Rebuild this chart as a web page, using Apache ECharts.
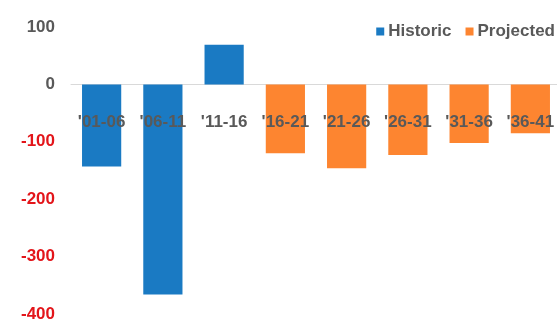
<!DOCTYPE html>
<html>
<head>
<meta charset="utf-8">
<script src="https://cdn.jsdelivr.net/npm/echarts@6/dist/echarts.min.js"></script>
<style>
  html, body { margin: 0; padding: 0; background: #fff; }
  #chart { width: 557px; height: 322px; }
</style>
</head>
<body>
<div id="chart"></div>
<script>
const periods = ["'01-06", "'06-11", "'11-16", "'16-21", "'21-26", "'26-31", "'31-36", "'36-41"];
const historic = [-143, -366, 69, '-', '-', '-', '-', '-'];
const projected = ['-', '-', '-', -120, -146, -123, -102, -85];
const yTicks = [-400, -300, -200, -100, 0, 100];

const font = '"Liberation Sans", Arial, sans-serif';
const gridTop = 27, gridBottom = 8, chartH = 322;
const yMin = yTicks[0], yMax = yTicks[yTicks.length - 1];
// shift the label axis up so its labels sit just under the zero line
const plotH = chartH - gridTop - gridBottom;
const zeroShift = -(0 - yMin) / (yMax - yMin) * plotH;

const myChart = echarts.init(document.getElementById('chart'));

const option = {
  animation: false,
  legend: {
    right: -3,
    top: 18,
    itemWidth: 8,
    itemHeight: 8,
    itemGap: 14,
    icon: 'rect',
    textStyle: { fontFamily: font, fontWeight: 'bold', fontSize: 17, color: '#595959', padding: [0, 0, 0, -1] },
    data: ['Historic', 'Projected']
  },
  grid: { left: 71, right: -4, top: gridTop, bottom: gridBottom, containLabel: false, outerBoundsMode: 'none' },
  xAxis: [
    {
      type: 'category',
      data: periods,
      axisLine: { onZero: true, lineStyle: { color: '#d9d9d9', width: 1 } },
      axisTick: { show: false },
      axisLabel: { show: false }
    },
    {
      type: 'category',
      data: periods,
      position: 'bottom',
      offset: zeroShift,
      z: 10,
      axisLine: { show: false },
      axisTick: { show: false },
      axisLabel: {
        interval: 0,
        margin: 29,
        fontFamily: font,
        fontWeight: 'bold',
        fontSize: 17,
        color: '#595959'
      }
    }
  ],
  yAxis: {
    type: 'value',
    min: yMin,
    max: yMax,
    interval: 100,
    splitLine: { show: false },
    axisLine: { show: false },
    axisTick: { show: false },
    axisLabel: {
      margin: 16,
      fontFamily: font,
      fontWeight: 'bold',
      fontSize: 17,
      color: function (v) { return v < 0 ? '#e3151a' : '#595959'; }
    }
  },
  series: [
    {
      name: 'Historic',
      type: 'bar',
      stack: 'all',
      barCategoryGap: '36%',
      itemStyle: { color: '#1a7ac3' },
      data: historic
    },
    {
      name: 'Projected',
      type: 'bar',
      stack: 'all',
      barCategoryGap: '36%',
      itemStyle: { color: '#fd8530' },
      data: projected
    }
  ]
};
myChart.setOption(option);
</script>
</body>
</html>
